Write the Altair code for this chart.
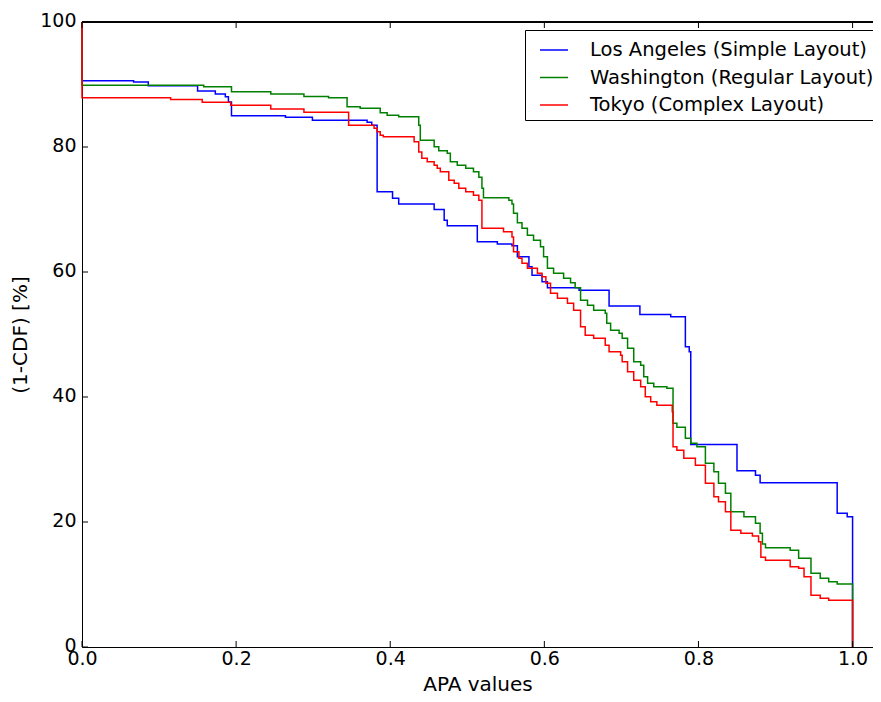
import altair as alt
import pandas as pd

series_names = ["Los Angeles (Simple Layout)", "Washington (Regular Layout)", "Tokyo (Complex Layout)"]
series_colors = ["#0000ff", "#008000", "#ff0000"]

la_x = [0, 0, 0.067, 0.086, 0.150, 0.173, 0.186, 0.190, 0.194, 0.264, 0.299, 0.370, 0.376, 0.383,
        0.403, 0.411, 0.457, 0.470, 0.474, 0.513, 0.539, 0.558, 0.565, 0.580, 0.584, 0.597, 0.604,
        0.645, 0.684, 0.724, 0.764, 0.783, 0.788, 0.790, 0.850, 0.874, 0.880, 0.980, 0.993, 1.0]
la_y = [100, 90.6, 90.4, 89.8, 88.96, 88.5, 88.05, 87.2, 85.0, 84.75, 84.3, 83.95, 83.5, 72.85,
        71.8, 70.9, 70.0, 68.3, 67.4, 64.85, 64.5, 64.2, 62.45, 60.85, 59.5, 58.45, 57.5,
        57.1, 54.56, 53.2, 52.85, 48.05, 47.25, 32.4, 28.2, 27.5, 26.3, 21.4, 20.85, 0]

wa_x = [0, 0, 0.158, 0.194, 0.245, 0.288, 0.320, 0.344, 0.361, 0.387, 0.396, 0.411, 0.437, 0.439,
        0.457, 0.463, 0.474, 0.478, 0.487, 0.498, 0.508, 0.515, 0.519, 0.521, 0.554, 0.558, 0.560,
        0.565, 0.571, 0.578, 0.586, 0.595, 0.599, 0.604, 0.612, 0.625, 0.634, 0.640, 0.647, 0.656,
        0.664, 0.679, 0.681, 0.686, 0.697, 0.701, 0.708, 0.716, 0.725, 0.729, 0.734, 0.742, 0.759,
        0.767, 0.772, 0.783, 0.790, 0.798, 0.809, 0.820, 0.826, 0.835, 0.842, 0.859, 0.874, 0.880,
        0.883, 0.887, 0.919, 0.930, 0.946, 0.958, 0.969, 0.980, 1.0]
wa_y = [100, 89.9, 89.65, 88.85, 88.5, 88.1, 87.9, 86.45, 86.2, 85.5, 85.1, 84.85, 83.5, 81.1,
        80.05, 79.4, 79.0, 77.65, 77.1, 76.6, 76.05, 75.15, 73.4, 71.9, 71.5, 70.9, 69.4,
        67.9, 67.0, 65.9, 65.1, 64.05, 62.45, 60.6, 59.8, 59.0, 58.3, 57.5, 55.5, 54.7,
        53.9, 53.4, 51.8, 50.7, 50.2, 49.4, 47.8, 45.65, 45.1, 43.25, 42.2, 41.65, 41.4,
        35.8, 35.15, 33.4, 32.6, 32.05, 29.4, 28.05, 26.2, 24.6, 21.65, 20.85, 19.8, 18.2,
        16.5, 15.9, 15.5, 14.2, 11.8, 11.0, 10.45, 10.1, 0]

tk_x = [0, 0, 0.115, 0.156, 0.193, 0.245, 0.288, 0.346, 0.379, 0.383, 0.387, 0.391, 0.431, 0.437,
        0.441, 0.448, 0.457, 0.461, 0.465, 0.476, 0.483, 0.489, 0.498, 0.508, 0.515, 0.519, 0.547,
        0.558, 0.560, 0.567, 0.571, 0.578, 0.591, 0.597, 0.602, 0.608, 0.617, 0.630, 0.638, 0.647,
        0.653, 0.664, 0.679, 0.684, 0.699, 0.701, 0.708, 0.716, 0.725, 0.731, 0.738, 0.746, 0.766,
        0.767, 0.772, 0.781, 0.796, 0.809, 0.820, 0.826, 0.835, 0.842, 0.855, 0.870, 0.878, 0.881,
        0.887, 0.919, 0.930, 0.937, 0.946, 0.958, 0.969, 1.0]
tk_y = [100, 87.9, 87.6, 87.15, 86.7, 86.1, 85.55, 83.5, 83.0, 82.45, 81.9, 81.65, 80.85, 79.2,
        78.2, 77.65, 77.1, 76.6, 76.05, 74.7, 74.2, 73.4, 72.85, 72.3, 71.5, 67.0, 66.45,
        65.6, 63.25, 62.2, 61.4, 60.6, 59.8, 59.25, 58.2, 56.6, 55.8, 55.0, 53.9, 51.25,
        49.9, 49.4, 48.3, 47.25, 46.7, 45.65, 44.05, 42.7, 41.65, 40.05, 39.25, 38.7, 37.65,
        32.05, 31.5, 30.2, 29.1, 26.2, 24.05, 23.25, 21.65, 18.7, 18.2, 17.75, 16.85, 14.35,
        13.9, 12.85, 12.6, 11.25, 8.3, 7.8, 7.5, 0]

x_ticks = [0.0, 0.2, 0.4, 0.6, 0.8, 1.0]
y_ticks = [0, 20, 40, 60, 80, 100]

W, H = 791, 625
XMAX = 1.0265
FONT = "DejaVu Sans"

rows = []
for name, xs, ys in zip(series_names, [la_x, wa_x, tk_x], [la_y, wa_y, tk_y]):
    for i, (xv, yv) in enumerate(zip(xs, ys)):
        rows.append({"series": name, "x": xv, "y": yv, "i": i})
df = pd.DataFrame(rows)

xscale = alt.Scale(domain=[0, XMAX], nice=False, zero=False)
yscale = alt.Scale(domain=[0, 100], nice=False)

x_axis = alt.Axis(values=x_ticks, format=".1f", labelFont=FONT, labelFontSize=19, labelColor="black",
                  ticks=False, tickSize=0, labelPadding=2, domainColor="black", domainWidth=1, grid=False,
                  titleFont=FONT, titleFontSize=20, titleFontWeight="normal", titleColor="black",
                  titleY=37, titleBaseline="middle", labelFlush=False)
y_axis = alt.Axis(values=y_ticks, format="d", labelFont=FONT, labelFontSize=19, labelColor="black",
                  ticks=False, tickSize=0, labelPadding=6, labelOffset=-2, domainColor="black",
                  domainWidth=1, grid=False,
                  titleFont=FONT, titleFontSize=20, titleFontWeight="normal", titleColor="black",
                  titleX=-62, titleBaseline="middle", labelFlush=False)

X = alt.X("x:Q", scale=xscale, axis=x_axis, title="APA values")
Y = alt.Y("y:Q", scale=yscale, axis=y_axis, title="(1-CDF) [%]")

color = alt.Color("series:N", sort=series_names,
                  scale=alt.Scale(domain=series_names, range=series_colors),
                  legend=alt.Legend(title=None, orient="none", legendX=443, legendY=8,
                                    symbolType="stroke", symbolSize=784, symbolStrokeWidth=1.5,
                                    labelFont=FONT, labelFontSize=19.5, labelColor="black",
                                    labelOffset=21, rowPadding=2.5, padding=5, symbolOffset=9,
                                    strokeColor="black", fillColor="white", labelLimit=500,
                                    cornerRadius=0))

layers = []
for name in series_names:
    layers.append(
        alt.Chart(df).transform_filter(alt.datum.series == name)
        .mark_line(interpolate="step-after", strokeWidth=1.5)
        .encode(x=X, y=Y, color=color, order="i:Q")
    )

xt = pd.DataFrame({"x": x_ticks})
yt = pd.DataFrame({"y": y_ticks})
bottom_ticks = alt.Chart(xt).mark_rule(color="black", strokeWidth=1).encode(
    x=X, y=alt.value(H), y2=alt.value(H - 6))
top_ticks = alt.Chart(xt).mark_rule(color="black", strokeWidth=1).encode(
    x=X, y=alt.value(0), y2=alt.value(6))
left_ticks = alt.Chart(yt).mark_rule(color="black", strokeWidth=1).encode(
    y=Y, x=alt.value(0), x2=alt.value(6))
top_spine = alt.Chart(xt).mark_rule(color="black", strokeWidth=1).encode(
    x=alt.value(0), x2=alt.value(W), y=alt.value(0))

chart = alt.layer(*layers, bottom_ticks, top_ticks, left_ticks, top_spine).properties(
    width=W, height=H,
    autosize=alt.AutoSizeParams(type="none"),
    padding={"left": 74, "top": 14, "right": 0, "bottom": 47},
    background="white",
).configure_view(strokeWidth=0)

chart.save("out.html", embed_options={"renderer": "svg", "actions": False})
